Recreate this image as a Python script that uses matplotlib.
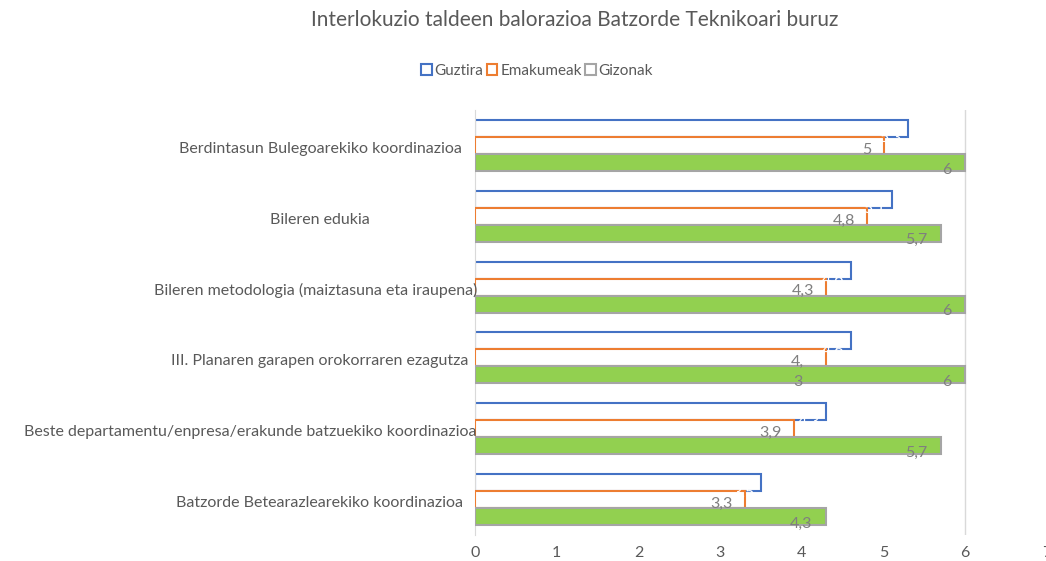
import matplotlib
matplotlib.use('Agg')

import matplotlib.pyplot as plt
from matplotlib.patches import Patch
import numpy as np

plt.rcParams['font.family'] = ['Lato', 'DejaVu Sans']

categories = [
    'Berdintasun Bulegoarekiko koordinazioa',
    'Bileren edukia',
    'Bileren metodologia (maiztasuna eta iraupena)',
    'III. Planaren garapen orokorraren ezagutza',
    'Beste departamentu/enpresa/erakunde batzuekiko koordinazioa',
    'Batzorde Betearazlearekiko koordinazioa',
]
guztira = [5.3, 5.1, 4.6, 4.6, 4.3, 3.5]
emakumeak = [5.0, 4.8, 4.3, 4.3, 3.9, 3.3]
gizonak = [6.0, 5.7, 6.0, 6.0, 5.7, 4.3]
series_names = ['Guztira', 'Emakumeak', 'Gizonak']
x_ticks = [0, 1, 2, 3, 4, 5, 6, 7]

grey = '#595959'
label_grey = '#7F7F7F'
blue = '#4472C4'
orange = '#ED7D31'
green = '#92D050'
edge_grey = '#A5A5A5'


def fmt(v):
    s = ('%.1f' % v).rstrip('0').rstrip('.')
    return s.replace('.', ',')


fig = plt.figure(figsize=(10.46, 5.61), dpi=100)
ax = fig.add_axes([475 / 1046, 1 - 535 / 561, 572 / 1046, 425 / 561])

y = np.arange(len(categories))
h = 0.24

ax.barh(y - h, guztira, height=h, color='white', edgecolor=blue, linewidth=1.5, zorder=2)
ax.barh(y, emakumeak, height=h, color='white', edgecolor=orange, linewidth=1.5, zorder=3)
ax.barh(y + h, gizonak, height=h, color=green, edgecolor=edge_grey, linewidth=1.5, zorder=4)

# data labels
for i in range(len(categories)):
    ax.text(guztira[i] - 0.08, y[i] - h / 2 + 0.02, fmt(guztira[i]), color='white',
            ha='right', va='center', fontsize=11.5, zorder=6)
    lab = fmt(emakumeak[i])
    if i == 3:
        lab = lab[:2] + '\n' + lab[2:]
        ax.text(emakumeak[i] - 0.35, y[i] + 0.2, lab, color=label_grey, ha='center',
                va='center', fontsize=11.5, zorder=6, linespacing=1.5)
    else:
        ax.text(emakumeak[i] - 0.15, y[i] + 0.06, lab, color=label_grey, ha='right',
                va='center', fontsize=11.5, zorder=6)
    ax.text(gizonak[i] - 0.17, y[i] + h + 0.1, fmt(gizonak[i]), color=label_grey,
            ha='right', va='center', fontsize=11.5, zorder=6)

ax.set_xlim(0, 7)
ax.set_ylim(len(categories) - 0.5, -0.5)
ax.set_xticks(x_ticks)
ax.set_yticks([])
ax.tick_params(axis='x', length=0, labelsize=11.5, colors=grey, pad=8)

for s in ['top', 'right', 'bottom']:
    ax.spines[s].set_visible(False)
ax.spines['left'].set_color('#D9D9D9')
ax.axvline(6, color='#D9D9D9', linewidth=1, zorder=1)

# category labels: centred in a label area left of the axis, clamped at the axis
fig.canvas.draw()
renderer = fig.canvas.get_renderer()
label_center = 320 / 1046
axis_left = 477 / 1046
for i, cat in enumerate(categories):
    yy = ax.transData.transform((0, y[i] + 0.05))[1] / fig.bbox.height
    t = fig.text(label_center, yy, cat, ha='center', va='center', fontsize=11.5, color=grey)
    bb = t.get_window_extent(renderer)
    if bb.x1 / fig.bbox.width > axis_left:
        t.set_ha('right')
        t.set_x(axis_left)

fig.suptitle('Interlokuzio taldeen balorazioa Batzorde Teknikoari buruz',
             x=575 / 1046, y=1 - 20 / 561, va='center', fontsize=15, color=grey)

handles = [
    Patch(facecolor='white', edgecolor=blue, linewidth=1.5),
    Patch(facecolor='white', edgecolor=orange, linewidth=1.5),
    Patch(facecolor='white', edgecolor=edge_grey, linewidth=1.5),
]
leg = fig.legend(handles, series_names, loc='center', bbox_to_anchor=(537 / 1046, 1 - 71 / 561),
                 ncol=3, frameon=False, fontsize=11, handlelength=0.7, handleheight=0.7,
                 handletextpad=0.2, columnspacing=0.2, labelcolor=grey)

fig.savefig('out.png', dpi=100)
